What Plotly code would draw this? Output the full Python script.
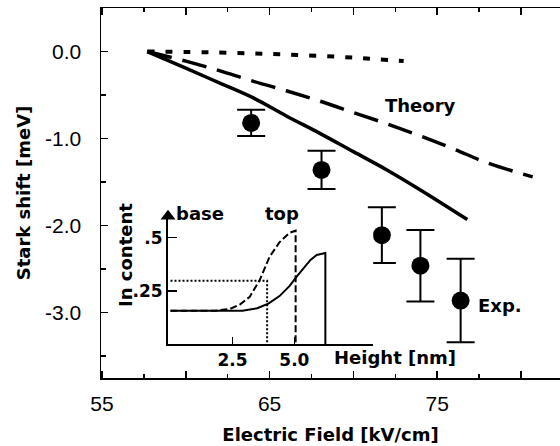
import plotly.graph_objects as go

# ---- main panel data ----
field_solid = [57.7, 60, 62, 64, 66, 68, 70, 72, 74, 76.8]
shift_solid = [0, -0.19, -0.36, -0.53, -0.74, -0.94, -1.15, -1.36, -1.59, -1.93]

field_dashed = [57.7, 60, 62, 64, 66, 68, 70, 72, 74, 76, 78, 80.7]
shift_dashed = [0, -0.11, -0.22, -0.34, -0.45, -0.57, -0.70, -0.83, -0.97, -1.12, -1.28, -1.44]

field_dotted = [57.7, 62, 66, 70, 73]
shift_dotted = [0, -0.012, -0.035, -0.07, -0.11]

field_exp = [63.9, 68.1, 71.7, 74.0, 76.4]
shift_exp = [-0.82, -1.36, -2.11, -2.46, -2.86]
shift_err = [0.15, 0.22, 0.32, 0.41, 0.48]

x_tickvals = [55, 60, 65, 70, 75, 80]
x_ticktext = ["55", "", "65", "", "75", ""]
y_tickvals = [0.0, -1.0, -2.0, -3.0]
y_ticktext = ["0.0", "-1.0", "-2.0", "-3.0"]

# ---- inset data ----
height_solid = [0, 2.9, 3.5, 3.95, 4.4, 4.8, 5.1, 5.4, 5.65, 5.9, 6.25, 6.25]
indium_solid = [0.156, 0.156, 0.168, 0.19, 0.225, 0.272, 0.318, 0.36, 0.395, 0.418, 0.427, 0]

height_dashed = [0, 1.8, 2.4, 2.8, 3.2, 3.6, 4.0, 4.4, 4.8, 5.05, 5.05]
indium_dashed = [0.156, 0.156, 0.165, 0.185, 0.222, 0.30, 0.41, 0.478, 0.522, 0.532, 0]

height_dotted = [0, 3.9, 3.9]
indium_dotted = [0.297, 0.297, 0]

inset_x_tickvals = [2.5, 5.0]
inset_x_ticktext = ["2.5", "5.0"]
inset_y_tickvals = [0.25, 0.5]
inset_y_ticktext = [".25", ".5"]

BOLD = dict(family="DejaVu Sans", size=18, color="black", weight="bold")
TICK = dict(family="Liberation Sans", size=21, color="black")

fig = go.Figure()

fig.add_trace(go.Scatter(x=field_dotted, y=shift_dotted, mode="lines",
                         line=dict(color="black", width=4, dash="7px,11px", shape="spline"),
                         showlegend=False))
fig.add_trace(go.Scatter(x=field_dashed, y=shift_dashed, mode="lines",
                         line=dict(color="black", width=3.5, dash="25px,11px", shape="spline"),
                         showlegend=False))
fig.add_trace(go.Scatter(x=field_solid, y=shift_solid, mode="lines",
                         line=dict(color="black", width=3.5, shape="spline"),
                         showlegend=False))
fig.add_trace(go.Scatter(x=field_exp, y=shift_exp, mode="markers",
                         marker=dict(color="black", size=18),
                         error_y=dict(type="data", array=shift_err, visible=True,
                                      color="black", thickness=2, width=14),
                         showlegend=False))

# inset traces
fig.add_trace(go.Scatter(x=height_dotted, y=indium_dotted, mode="lines",
                         line=dict(color="black", width=2, dash="2px,2px"),
                         xaxis="x2", yaxis="y2", showlegend=False))
fig.add_trace(go.Scatter(x=height_dashed, y=indium_dashed, mode="lines",
                         line=dict(color="black", width=2, dash="7px,3px"),
                         xaxis="x2", yaxis="y2", showlegend=False))
fig.add_trace(go.Scatter(x=height_solid, y=indium_solid, mode="lines",
                         line=dict(color="black", width=2),
                         xaxis="x2", yaxis="y2", showlegend=False))
# arrow head on inset y axis
fig.add_trace(go.Scatter(x=[-0.1], y=[0.60], mode="markers",
                         marker=dict(symbol="triangle-up", size=13, color="black"),
                         cliponaxis=False, xaxis="x2", yaxis="y2", showlegend=False))

fig.update_layout(
    width=560, height=446, autosize=False,
    margin=dict(l=101, r=0, t=8, b=68),
    paper_bgcolor="white", plot_bgcolor="white",
    hovermode=False,
    xaxis=dict(range=[54.94, 82.33], showline=True, linecolor="black", linewidth=1.5,
               mirror="ticks", ticks="inside", ticklen=7, tickwidth=1.5, tickcolor="black",
               tickvals=x_tickvals, ticktext=x_ticktext, tickfont=TICK,
               ticklabelstandoff=6,
               minor=dict(tickvals=[57.5, 62.5, 67.5, 72.5, 77.5, 82.5], ticks="inside",
                          ticklen=4, tickwidth=1.5, tickcolor="black"),
               showgrid=False, zeroline=False,
               title=dict(text="Electric Field [kV/cm]", font=BOLD, standoff=14)),
    yaxis=dict(range=[-3.75, 0.5], showline=True, linecolor="black", linewidth=1.5,
               mirror=False, ticks="inside", ticklen=7, tickwidth=1.5, tickcolor="black",
               tickvals=y_tickvals, ticktext=y_ticktext, tickfont=TICK,
               ticklabelstandoff=14,
               minor=dict(tickvals=[0.5, -0.5, -1.5, -2.5, -3.5], ticks="inside",
                          ticklen=5, tickwidth=1.5, tickcolor="black"),
               showgrid=False, zeroline=False,
               title=dict(text="Stark shift [meV]", font=BOLD, standoff=10)),
    xaxis2=dict(domain=[0.146, 0.593], anchor="y2", range=[-0.1, 8.18],
                showline=True, linecolor="black", linewidth=2,
                ticks="inside", ticklen=7, tickwidth=1.5, tickcolor="black",
                tickvals=inset_x_tickvals, ticktext=inset_x_ticktext,
                tickfont=dict(family="DejaVu Sans", size=17, color="black", weight="bold"),
                showgrid=False, zeroline=False),
    yaxis2=dict(domain=[0.0919, 0.4486], anchor="x2", range=[0, 0.62],
                showline=True, linecolor="black", linewidth=2,
                ticks="inside", ticklen=9, tickwidth=1.5, tickcolor="black",
                tickvals=inset_y_tickvals, ticktext=inset_y_ticktext,
                tickfont=dict(family="DejaVu Sans", size=17, color="black", weight="bold"),
                showgrid=False, zeroline=False),
)

def label(text, x, y, angle=0):
    fig.add_annotation(text=text, xref="paper", yref="paper",
                       x=(x - 101) / 459, y=(378 - y) / 370,
                       showarrow=False, font=BOLD, textangle=angle,
                       xanchor="center", yanchor="middle")

label("Theory", 420, 106)
label("Exp.", 500, 305)
label("base", 200, 213)
label("top", 282, 213)
label("Height [nm]", 395, 357)
label("In content", 125, 255, angle=-90)

fig.write_html("out.html",
               config={"displayModeBar": False, "staticPlot": True},
               post_script="document.body.style.margin='0';document.body.style.overflow='hidden';")
